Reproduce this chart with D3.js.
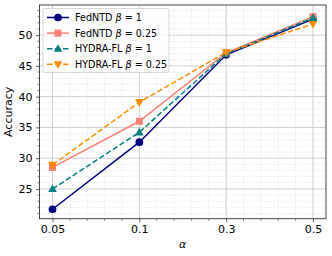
<!DOCTYPE html>
<html>
<head>
<meta charset="utf-8">
<script src="https://cdn.jsdelivr.net/npm/d3@7"></script>
<style>
  body { margin: 0; background: #fff; }
  svg { font-family: "DejaVu Sans", sans-serif; }
</style>
</head>
<body>
<div id="chart"></div>
<script>
// data
var alphas = ["0.05", "0.1", "0.3", "0.5"];
var fedntdB1 = [21.7, 32.6, 46.8, 52.6];
var fedntdB025 = [28.5, 36.0, 47.1, 53.0];
var hydraB1 = [25.0, 34.2, 47.0, 52.8];
var hydraB025 = [28.9, 39.1, 47.2, 51.8];
var yTicks = [25, 30, 35, 40, 45, 50];

var series = [
  {name: "FedNTD", beta: "1", values: fedntdB1, color: "#000080", marker: "circle", dash: null},
  {name: "FedNTD", beta: "0.25", values: fedntdB025, color: "#fa8072", marker: "square", dash: null},
  {name: "HYDRA-FL", beta: "1", values: hydraB1, color: "#008080", marker: "triangle", dash: "5.5,2.5"},
  {name: "HYDRA-FL", beta: "0.25", values: hydraB025, color: "#ff8c00", marker: "triangleDown", dash: "5.5,2.5"}
];

var svgWidth = 332, svgHeight = 256;
var margin = {top: 5, right: 6, bottom: 37.3, left: 39.5};
var width = svgWidth - margin.left - margin.right;
var height = svgHeight - margin.top - margin.bottom;

var svg = d3.select("#chart").append("svg")
  .attr("width", svgWidth)
  .attr("height", svgHeight);

var chartGroup = svg.append("g")
  .attr("transform", `translate(${margin.left}, ${margin.top})`);

var xScale = d3.scaleLinear().domain([-0.15, 3.15]).range([0, width]);
var yScale = d3.scaleLinear().domain([20.16, 54.9]).range([height, 0]);

// minor grid
var xMinor = d3.range(0, 3.01, 0.2).filter(d => Math.abs(d - Math.round(d)) > 0.01);
var yMinor = d3.range(21, 55, 1).filter(d => d % 5 !== 0);

chartGroup.append("g").selectAll("line").data(xMinor).enter().append("line")
  .attr("x1", d => xScale(d)).attr("x2", d => xScale(d))
  .attr("y1", 0).attr("y2", height)
  .attr("stroke", "#ddd").attr("stroke-width", 0.6).attr("stroke-dasharray", "1.5,1.5");
chartGroup.append("g").selectAll("line").data(yMinor).enter().append("line")
  .attr("y1", d => yScale(d)).attr("y2", d => yScale(d))
  .attr("x1", 0).attr("x2", width)
  .attr("stroke", "#ddd").attr("stroke-width", 0.6).attr("stroke-dasharray", "1.5,1.5");

// major grid
chartGroup.append("g").selectAll("line").data(d3.range(alphas.length)).enter().append("line")
  .attr("x1", d => xScale(d)).attr("x2", d => xScale(d))
  .attr("y1", 0).attr("y2", height)
  .attr("stroke", "#c8c8c8").attr("stroke-width", 0.9);
chartGroup.append("g").selectAll("line").data(yTicks).enter().append("line")
  .attr("y1", d => yScale(d)).attr("y2", d => yScale(d))
  .attr("x1", 0).attr("x2", width)
  .attr("stroke", "#c8c8c8").attr("stroke-width", 0.9);

// axes
var bottomAxis = d3.axisBottom(xScale).tickValues(d3.range(alphas.length))
  .tickFormat(i => alphas[i]).tickSize(3.5).tickPadding(3.5);
var leftAxis = d3.axisLeft(yScale).tickValues(yTicks).tickSize(3.5).tickPadding(3.5);

var gx = chartGroup.append("g").attr("transform", `translate(0, ${height})`).call(bottomAxis);
var gy = chartGroup.append("g").call(leftAxis);
[gx, gy].forEach(function(g) {
  g.select(".domain").remove();
  g.selectAll("text").attr("font-size", 11).attr("fill", "#000").attr("font-family", "DejaVu Sans");
  g.selectAll("line").attr("stroke", "#333").attr("stroke-width", 0.8);
});

// minor ticks
chartGroup.append("g").selectAll("line").data(xMinor).enter().append("line")
  .attr("x1", d => xScale(d)).attr("x2", d => xScale(d))
  .attr("y1", height).attr("y2", height + 2)
  .attr("stroke", "#333").attr("stroke-width", 0.6);
chartGroup.append("g").selectAll("line").data(yMinor).enter().append("line")
  .attr("y1", d => yScale(d)).attr("y2", d => yScale(d))
  .attr("x1", 0).attr("x2", -2)
  .attr("stroke", "#333").attr("stroke-width", 0.6);

// frame
chartGroup.append("rect")
  .attr("width", width).attr("height", height)
  .attr("fill", "none").attr("stroke", "#333").attr("stroke-width", 0.9);

// markers
function drawMarker(g, type, color, size) {
  var s = size;
  if (type === "circle") {
    g.append("circle").attr("r", s * 0.55).attr("fill", color);
  } else if (type === "square") {
    g.append("rect").attr("x", -s * 0.5).attr("y", -s * 0.5)
      .attr("width", s).attr("height", s).attr("fill", color);
  } else if (type === "triangle") {
    g.append("path").attr("d", `M0,${-s * 0.65}L${s * 0.62},${s * 0.45}L${-s * 0.62},${s * 0.45}Z`).attr("fill", color);
  } else {
    g.append("path").attr("d", `M0,${s * 0.65}L${s * 0.62},${-s * 0.45}L${-s * 0.62},${-s * 0.45}Z`).attr("fill", color);
  }
}

var line = d3.line().x((d, i) => xScale(i)).y(d => yScale(d));

series.forEach(function(s) {
  chartGroup.append("path")
    .datum(s.values)
    .attr("d", line)
    .attr("fill", "none")
    .attr("stroke", s.color)
    .attr("stroke-width", 1.5)
    .attr("stroke-dasharray", s.dash);
  s.values.forEach(function(v, i) {
    var g = chartGroup.append("g").attr("transform", `translate(${xScale(i)}, ${yScale(v)})`);
    drawMarker(g, s.marker, s.color, 7);
  });
});

// axis labels
svg.append("text")
  .attr("transform", `translate(12, ${margin.top + height / 2}) rotate(-90)`)
  .attr("text-anchor", "middle")
  .attr("font-size", 11)
  .text("Accuracy");

svg.append("text")
  .attr("x", margin.left + width / 2)
  .attr("y", 248)
  .attr("text-anchor", "middle")
  .attr("font-size", 11)
  .attr("font-style", "italic")
  .text("α");

// legend
var legend = svg.append("g").attr("transform", "translate(43, 8.5)");
legend.append("rect")
  .attr("width", 126).attr("height", 64).attr("rx", 2)
  .attr("fill", "#fff").attr("fill-opacity", 0.8)
  .attr("stroke", "#ccc").attr("stroke-width", 0.8);

series.forEach(function(s, i) {
  var y = 9 + i * 15.6;
  var row = legend.append("g").attr("transform", `translate(0, ${y})`);
  row.append("line")
    .attr("x1", 4).attr("x2", 26).attr("y1", 0).attr("y2", 0)
    .attr("stroke", s.color).attr("stroke-width", 1.5)
    .attr("stroke-dasharray", s.dash);
  var m = row.append("g").attr("transform", "translate(15, 0)");
  drawMarker(m, s.marker, s.color, 7);
  var t = row.append("text").attr("x", 32).attr("y", 3.6).attr("font-size", 9.6);
  t.append("tspan").text(s.name + " ");
  t.append("tspan").attr("font-style", "italic").text("β");
  t.append("tspan").text(" = " + s.beta);
});
</script>
</body>
</html>
